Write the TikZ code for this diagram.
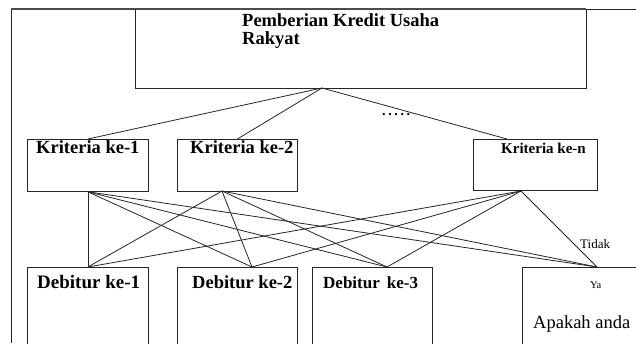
\documentclass[tikz,border=0pt]{standalone}
\usepackage{fontspec}
\setmainfont{Liberation Serif}
\begin{document}
\begin{tikzpicture}[x=1pt,y=-1pt,
  box/.style={draw=black!85,line width=0.8pt,rectangle,inner sep=0pt,anchor=north west},
  link/.style={draw=black!85,line width=0.8pt},
  ttl/.style={font=\fontsize{18.5}{18}\selectfont\bfseries,inner sep=0pt,anchor=base west},
  lbl/.style={inner sep=0pt,anchor=base west}]
\clip (0,0) rectangle (636,343);
\fill[white] (0,0) rectangle (636,343);

% outer frame
\draw[line width=0.8pt,black!85] (11,343) -- (11,9) -- (636,9);

% top box
\node[box,minimum width=451pt,minimum height=79pt] (top) at (135,9) {};
\draw[line width=2.6pt,black!70] (11,9) -- (586,9);
\node[ttl] (toptext) at (242,26) {Pemberian Kredit Usaha};
\node[ttl] (toptext2) at (242,44) {Rakyat};

% criteria boxes
\node[box,minimum width=121pt,minimum height=52pt] (k1) at (27,139) {};
\node[box,minimum width=120pt,minimum height=52pt] (k2) at (177,139) {};
\node[box,minimum width=124pt,minimum height=51pt] (kn) at (473,139) {};
\node[ttl] (k1t) at (36,153) {Kriteria ke-1};
\node[ttl] (k2t) at (190,153) {Kriteria ke-2};
\node[lbl,font=\fontsize{15}{15}\selectfont\bfseries] (knt) at (501,153) {Kriteria ke-n};
\node[lbl,font=\fontsize{14}{14}\selectfont\bfseries] (dots) at (382,115) {.\hspace{2.6pt}.\hspace{2.6pt}.\hspace{2.6pt}.\hspace{2.6pt}.};

% debtor boxes
\node[box,minimum width=121pt,minimum height=90pt] (d1) at (27,267) {};
\node[box,minimum width=120pt,minimum height=90pt] (d2) at (177,267) {};
\node[box,minimum width=120pt,minimum height=90pt] (d3) at (312,267) {};
\node[box,minimum width=130pt,minimum height=90pt] (d4) at (522,267) {};
\node[lbl,font=\fontsize{19}{19}\selectfont\bfseries] (d1t) at (37,288) {Debitur ke-1};
\node[lbl,font=\fontsize{18.5}{19}\selectfont\bfseries] (d2t) at (192,288) {Debitur ke-2};
\node[lbl,font=\fontsize{17}{19}\selectfont\bfseries] (d3t) at (323,288) {Debitur\hspace{7pt}ke-3};
\node[lbl,font=\fontsize{10.5}{10.5}\selectfont] (ya) at (590,288) {Ya};
\node[lbl,font=\fontsize{18.5}{18.5}\selectfont] (ask) at (533,328) {Apakah anda};
\node[lbl,font=\fontsize{13}{13}\selectfont] (tidak) at (580,248) {Tidak};

% connection points
\coordinate (apex) at (322,88);
\coordinate (kntop) at (507,139);
\coordinate (k2bot) at (222,191);
\coordinate (knbot) at (521,191);
\coordinate (d2top) at (252,267);
\coordinate (d3top) at (387,267);
\coordinate (d4top) at (597,267);

% top level to criteria
\draw[link] (apex) -- (k1.north);
\draw[link] (apex) -- (k2.north);
\draw[link] (apex) -- (kntop);

% criteria to debtors
\foreach \k in {k1.south,k2bot,knbot}
  \foreach \d in {d1.north,d2top,d3top,d4top}
    \draw[link] (\k) -- (\d);
\end{tikzpicture}
\end{document}
